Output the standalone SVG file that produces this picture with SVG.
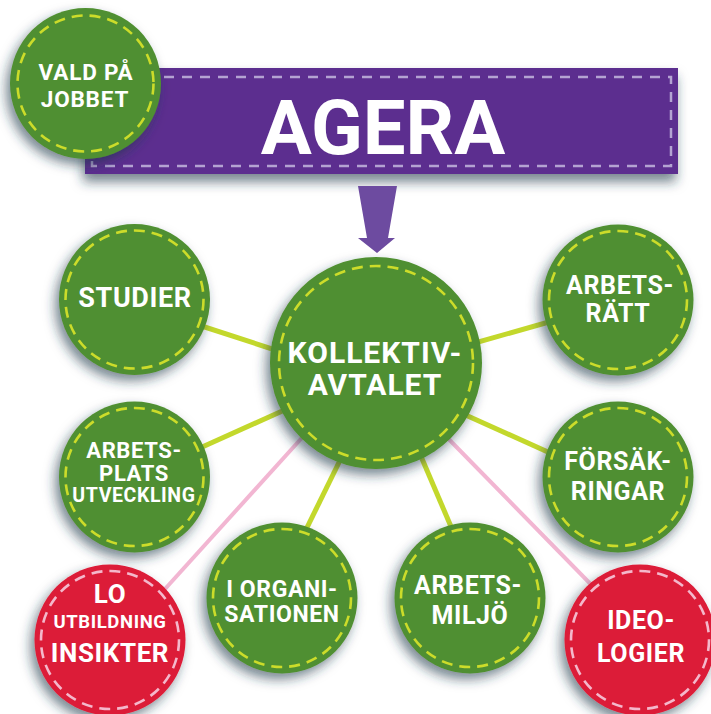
<svg xmlns="http://www.w3.org/2000/svg" width="711" height="714" viewBox="0 0 711 714">
<defs>
<filter id="sh" x="-30%" y="-30%" width="160%" height="160%">
<feDropShadow dx="-4" dy="6" stdDeviation="6" flood-color="#24384a" flood-opacity="0.6"/>
</filter>
<filter id="shr" x="-10%" y="-30%" width="120%" height="170%">
<feDropShadow dx="-2" dy="8" stdDeviation="6" flood-color="#24384a" flood-opacity="0.6"/>
</filter>
</defs>
<style>
.g{fill:#508F30;filter:url(#sh)}
.r{fill:#DC1A37;filter:url(#sh)}
.gd{fill:none;stroke:#CCDC2A;stroke-width:2.6;stroke-dasharray:11 7}
.rd{fill:none;stroke:#F4B8CB;stroke-width:2.6;stroke-dasharray:11 7}
.t{fill:#fff;font-family:Roboto,"Liberation Sans",sans-serif;font-weight:700;text-anchor:middle;letter-spacing:0.6px}
.lg{stroke:#C3D82C;stroke-width:5;fill:none}
.lp{stroke:#F2B6D2;stroke-width:4;fill:none}
</style>
<g id="agera">
<rect x="85" y="68" width="593" height="106" fill="#5B2E8F" filter="url(#shr)"/>
<rect x="92" y="77" width="579" height="89" fill="none" stroke="#B4A3D2" stroke-width="2.5" stroke-dasharray="10 8"/>
<text class="t" x="383" y="154" font-size="76" style="letter-spacing:0">AGERA</text>
</g>
<g id="vald">
<circle class="g" cx="85.5" cy="83.5" r="75.5"/>
<circle class="gd" cx="85.5" cy="83.5" r="68"/>
<text class="t" x="86" y="80" font-size="22.5" style="letter-spacing:0.8px">VALD PÅ</text>
<text class="t" x="85" y="107" font-size="22.5" style="letter-spacing:0.8px">JOBBET</text>
</g>
<g id="connectors">
<polygon points="358,186 397,186 388,238 395,238 377,253 358,238 367,238" fill="#6D4BA0"/>
<line class="lg" x1="180" y1="319" x2="300" y2="358"/>
<line class="lg" x1="180" y1="457" x2="300" y2="403"/>
<line class="lg" x1="450" y1="350" x2="570" y2="316"/>
<line class="lg" x1="450" y1="408" x2="570" y2="462"/>
<line class="lg" x1="350" y1="440" x2="296" y2="550"/>
<line class="lg" x1="414" y1="440" x2="461" y2="550"/>
<line class="lp" x1="318" y1="420" x2="146" y2="610"/>
<line class="lp" x1="430" y1="420" x2="616" y2="610"/>
</g>
<g id="studier">
<circle class="g" cx="134.5" cy="299.5" r="75.5"/>
<circle class="gd" cx="134.5" cy="299.5" r="69"/>
<text class="t" x="135" y="307" font-size="27">STUDIER</text>
</g>
<g id="arbetsratt">
<circle class="g" cx="618" cy="300" r="75.5"/>
<circle class="gd" cx="618" cy="300" r="69"/>
<text class="t" x="620" y="294" font-size="25">ARBETS-</text>
<text class="t" x="618" y="322" font-size="25">RÄTT</text>
</g>
<g id="arbetsplats">
<circle class="g" cx="134.5" cy="477" r="75.5"/>
<circle class="gd" cx="134.5" cy="477" r="69"/>
<text class="t" x="134" y="458" font-size="22">ARBETS-</text>
<text class="t" x="134" y="481" font-size="22">PLATS</text>
<text class="t" x="134" y="502" font-size="19.5" font-weight="500">UTVECKLING</text>
</g>
<g id="forsakringar">
<circle class="g" cx="618" cy="477" r="75.5"/>
<circle class="gd" cx="618" cy="477" r="69"/>
<text class="t" x="618" y="470" font-size="25">FÖRSÄK-</text>
<text class="t" x="618" y="500" font-size="25">RINGAR</text>
</g>
<g id="kollektivavtalet">
<circle class="g" cx="376" cy="363" r="106"/>
<circle class="gd" cx="376" cy="363" r="97"/>
<text class="t" x="375" y="363" font-size="30" style="letter-spacing:1px">KOLLEKTIV-</text>
<text class="t" x="375" y="395" font-size="30" style="letter-spacing:1px">AVTALET</text>
</g>
<g id="iorganisationen">
<circle class="g" cx="282" cy="598" r="75.5"/>
<circle class="gd" cx="282" cy="598" r="69"/>
<text class="t" x="282" y="597" font-size="23">I ORGANI-</text>
<text class="t" x="282" y="622" font-size="23">SATIONEN</text>
</g>
<g id="arbetsmiljo">
<circle class="g" cx="470" cy="598" r="75.5"/>
<circle class="gd" cx="470" cy="598" r="69"/>
<text class="t" x="468" y="594" font-size="25">ARBETS-</text>
<text class="t" x="470" y="624" font-size="25">MILJÖ</text>
</g>
<g id="lo">
<circle class="r" cx="110" cy="640" r="75.5"/>
<circle class="rd" cx="110" cy="640" r="69"/>
<text class="t" x="110" y="603" font-size="26">LO</text>
<text class="t" x="110" y="628" font-size="18.5">UTBILDNING</text>
<text class="t" x="110" y="662" font-size="26">INSIKTER</text>
</g>
<g id="ideologier">
<circle class="r" cx="640" cy="640" r="75.5"/>
<circle class="rd" cx="640" cy="640" r="69"/>
<text class="t" x="641" y="629" font-size="25">IDEO-</text>
<text class="t" x="641" y="662" font-size="25">LOGIER</text>
</g>
</svg>
